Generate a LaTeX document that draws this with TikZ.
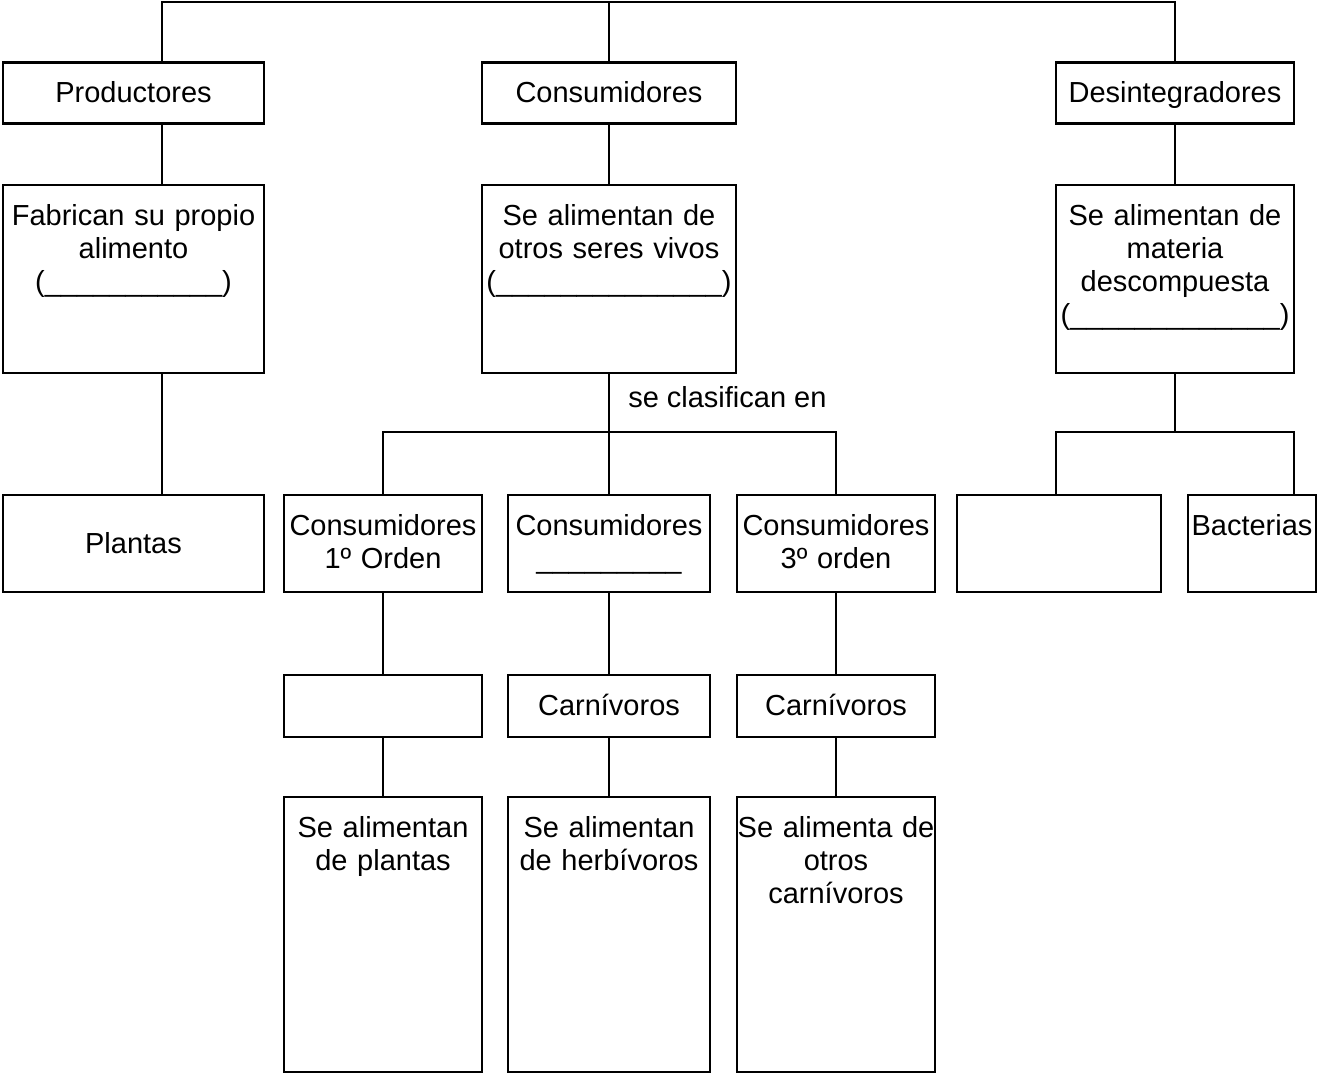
\documentclass[tikz,border=0pt]{standalone}
\usepackage{fontspec}
\setmainfont{Liberation Sans}
\usetikzlibrary{positioning}

\begin{document}
\begin{tikzpicture}[x=1pt,y=-1pt,line width=2.5pt,on grid,
    font=\fontsize{29}{33}\selectfont,
    caja/.style={draw,inner sep=0pt,outer sep=0pt,align=center,text width=#1},
    alto/.style={text height=40.5pt,text depth=#1}]
        \useasboundingbox (0,0) rectangle (1317,1075);
        \node[caja=261pt, alto=20.5pt] (prod) at (133.5,93) {Productores};
        \node[caja=254pt, alto=20.5pt] (cons) at (609,93) {Consumidores};
        \node[caja=238pt, alto=20.5pt] (desi) at (1175,93) {Desintegradores};
        \node[caja=261pt, alto=147.5pt] (fab) [below=186pt of prod] {Fabrican su propio\\ alimento\\ (\_\_\_\_\_\_\_\_\_\_\_)};
        \node[caja=254pt, alto=147.5pt] (sevi) [below=186pt of cons] {Se alimentan de\\ otros seres vivos\\ (\_\_\_\_\_\_\_\_\_\_\_\_\_\_)};
        \node[caja=238pt, alto=147.5pt] (desc) [below=186pt of desi] {Se alimentan de\\ materia\\ descompuesta\\ (\_\_\_\_\_\_\_\_\_\_\_\_\_)};
        \node[caja=261pt, text height=58pt, text depth=39pt] (plan) [below=264.5pt of fab] {Plantas};
        \node[caja=202pt, alto=56.5pt] (c2) at (609,543.5) {Consumidores\\ \_\_\_\_\_\_\_\_\_};
        \node[caja=198pt, alto=56.5pt] (c1) [left=226pt of c2] {Consumidores\\ 1º Orden};
        \node[caja=198pt, alto=56.5pt] (c3) [right=227pt of c2] {Consumidores\\ 3º orden};
        \node[caja=204pt, alto=56.5pt] (empt) at (1059,543.5) {};
        \node[caja=128pt, alto=56.5pt] (bact) at (1252,543.5) {Bacterias};
        \node[caja=198pt, alto=21.5pt] (h1) [below=162.5pt of c1] {};
        \node[caja=202pt, alto=21.5pt] (h2) [below=162.5pt of c2] {Carnívoros};
        \node[caja=198pt, alto=21.5pt] (h3) [below=162.5pt of c3] {Carnívoros};
        \node[caja=198pt, alto=234.5pt] (d1) [below=228.5pt of h1] {Se alimentan\\ de plantas};
        \node[caja=202pt, alto=234.5pt] (d2) [below=228.5pt of h2] {Se alimentan\\ de herbívoros};
        \node[caja=198pt, alto=234.5pt] (d3) [below=228.5pt of h3] {Se alimenta de\\ otros\\ carnívoros};
        \node[anchor=base west, inner sep=0pt] (clasif) at (627,407) {se clasifican en};
        \coordinate (eje) at (162,2);
        \coordinate (raiz) at (609,2);
        \coordinate (brazo) at (609,432);
        \coordinate (brazo2) at (1175,432);
        \draw (prod.north -| eje) -- (eje) -| (desi);
        \draw (raiz) -- (cons);
        \draw (prod.south -| eje) -- (fab.north -| eje);
        \draw (fab.south -| eje) -- (plan.north -| eje);
        \draw (cons) -- (sevi);
        \draw (desi) -- (desc);
        \draw (sevi) -- (c2);
        \draw (c1) |- (brazo) -| (c3);
        \draw (desc) -- (brazo2);
        \draw (empt.north -| desc.west) |- (brazo2) -| (bact.north -| desc.east);
        \draw (c1) -- (h1);
        \draw (c2) -- (h2);
        \draw (c3) -- (h3);
        \draw (h1) -- (d1);
        \draw (h2) -- (d2);
        \draw (h3) -- (d3);
\end{tikzpicture}
\end{document}
